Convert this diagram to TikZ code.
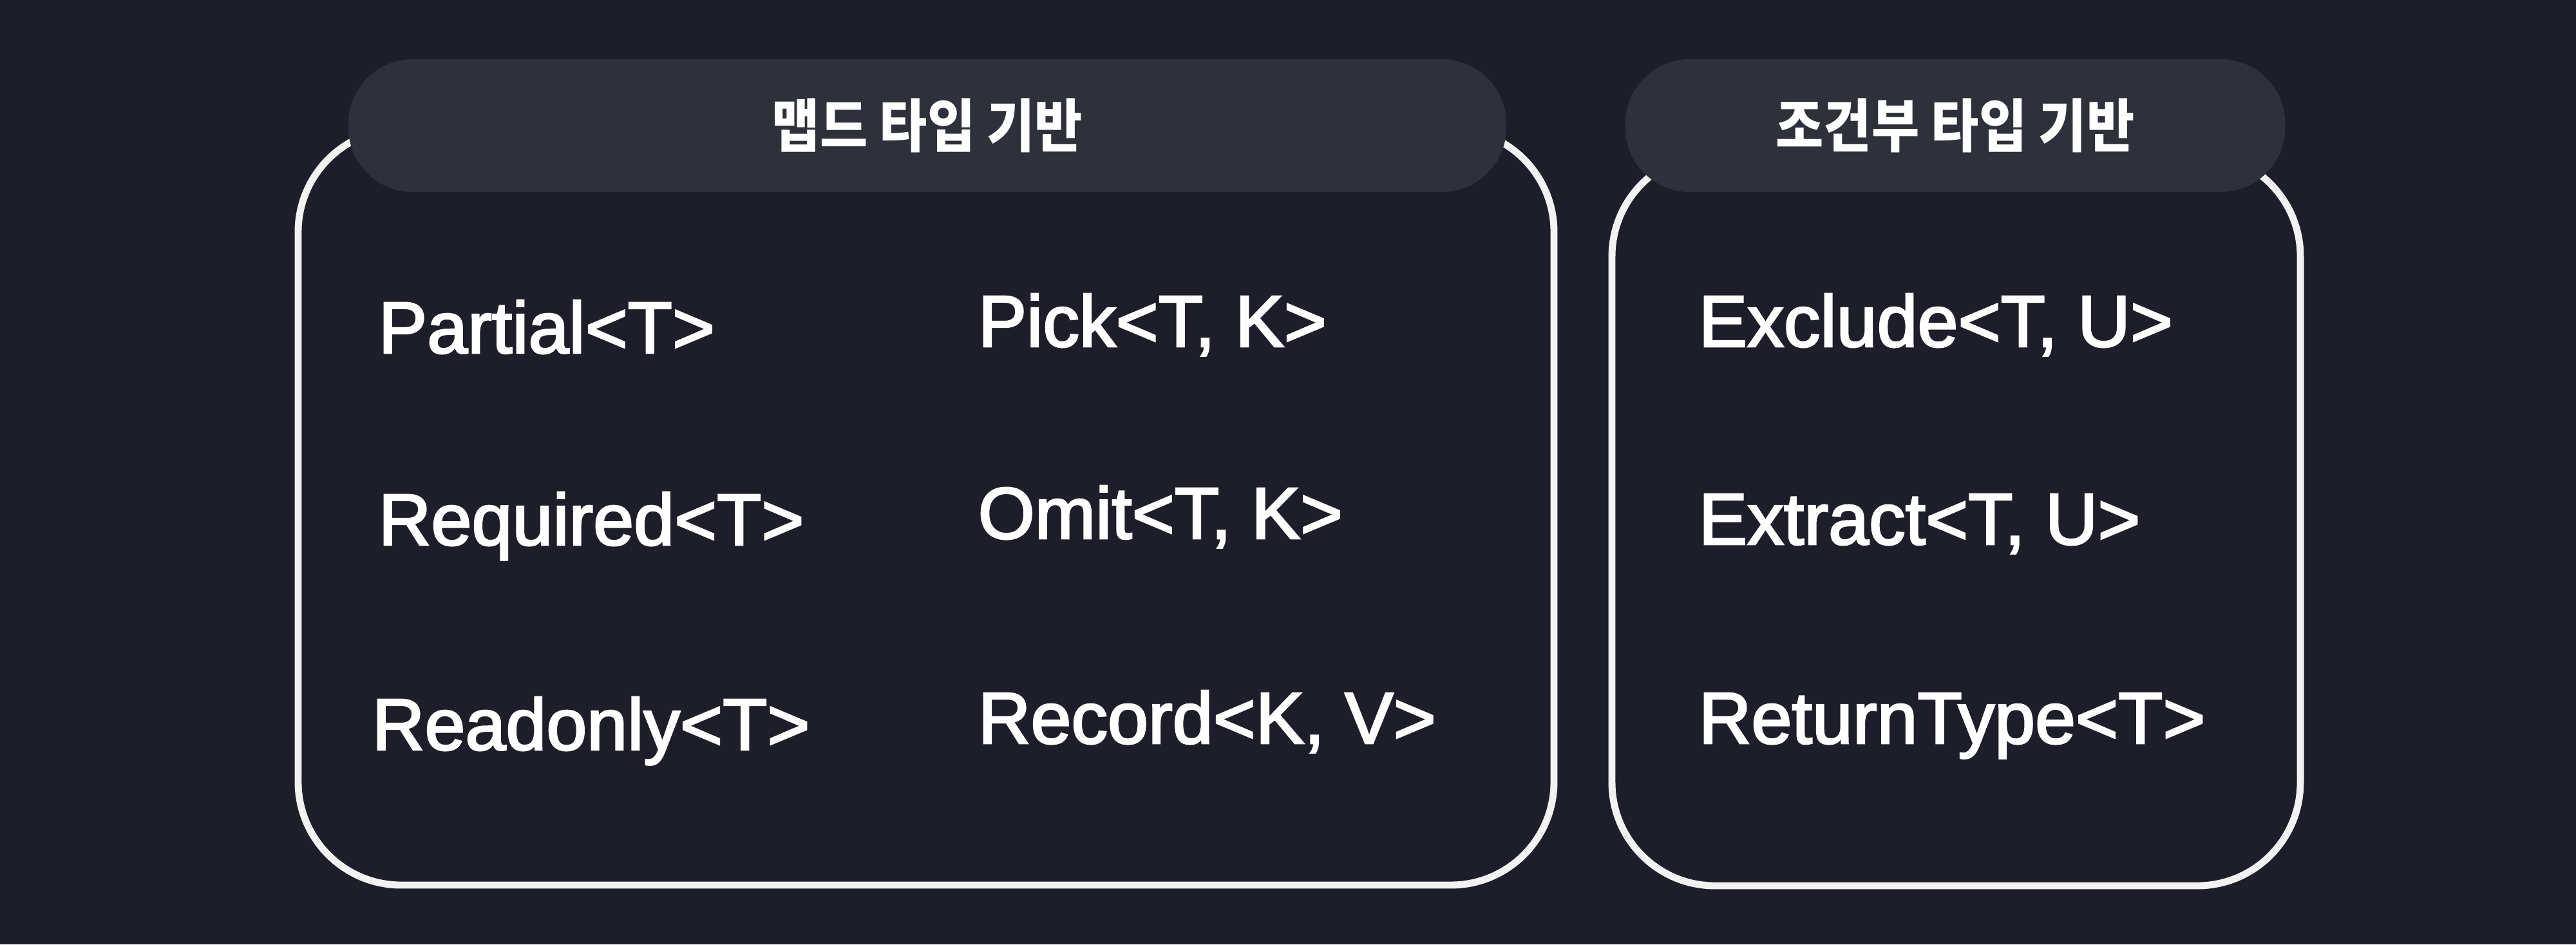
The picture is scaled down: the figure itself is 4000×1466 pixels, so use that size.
\documentclass[tikz,border=0pt]{standalone}
\usepackage{fontspec}
\setmainfont{Liberation Sans}
\newfontfamily\labelfont[FakeBold=2.5]{Liberation Sans}
\newfontfamily\kofont[FakeStretch=0.9]{Noto Sans CJK KR}
\definecolor{bgnavy}{HTML}{1E1E2B}
\definecolor{pillgray}{HTML}{2E303A}
\definecolor{chalk}{HTML}{F2F2F2}

\begin{document}
\begin{tikzpicture}[
    x=0.01cm, y=-0.01cm, % one unit = one pixel, y grows downwards
    box/.style={draw=chalk, line width=3.1pt, rounded corners=1.6cm},
    pill/.style={fill=pillgray, rounded corners=1.0cm, minimum height=2.06cm, inner sep=0pt,
        text=white, font=\kofont\bfseries\fontsize{25.5}{30}\selectfont},
    utype/.style={anchor=base west, inner sep=0pt, text=white,
        font=\labelfont\fontsize{32.2}{38}\selectfont}
]

    % --- Background ---
    \fill[bgnavy] (0,0) rectangle (4000,1466);
    \useasboundingbox (0,0) rectangle (4000,1466);

    % --- Group frames (chalk outline) ---
    \draw[box] (463,200) rectangle (2413,1374);  % mapped types
    \draw[box] (2503,238) rectangle (3572,1375); % conditional types

    % --- Headers ---
    \node[pill, minimum width=17.97cm] (mapped) at (1440,195) {맵드 타입 기반};
    \node[pill, minimum width=10.24cm] (cond) at (3036,195) {조건부 타입 기반};

    % --- Mapped types, left column ---
    \node[utype] (partial)  at (587,548)  {Partial<T>};
    \node[utype] (required) at (587,846)  {Required<T>};
    \node[utype] (readonly) at (577,1164) {Readonly<T>};

    % --- Mapped types, right column ---
    \node[utype] (pick)   at (1518,538)  {Pick<T, K>};
    \node[utype] (omit)   at (1518,836)  {Omit<T, K>};
    \node[utype] (record) at (1518,1154) {Record<K, V>};

    % --- Conditional types ---
    \node[utype] (exclude)    at (2637,538)  {Exclude<T, U>};
    \node[utype] (extract)    at (2637,845)  {Extract<T, U>};
    \node[utype] (returntype) at (2637,1154) {ReturnType<T>};

\end{tikzpicture}
\end{document}
